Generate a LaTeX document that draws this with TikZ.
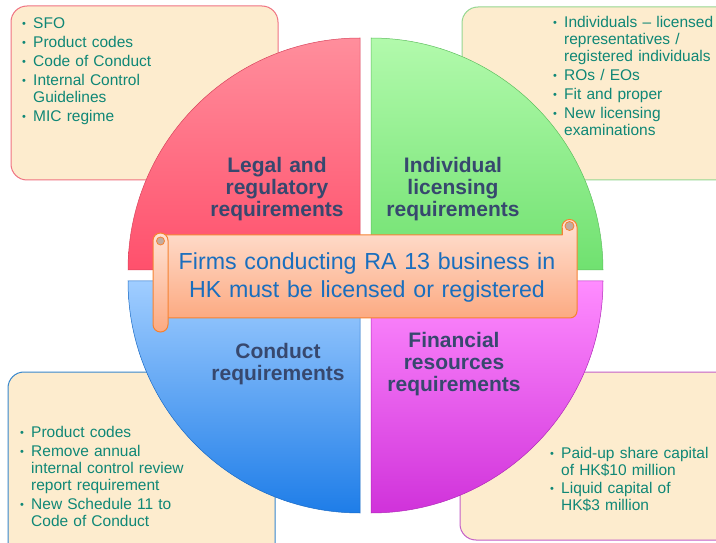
\documentclass[tikz,border=0pt]{standalone}
\usepackage{fontspec}
\setmainfont{Liberation Sans}
\definecolor{bullettext}{RGB}{15,135,118}
\definecolor{labeltext}{RGB}{55,72,110}
\definecolor{cream}{RGB}{253,236,206}
\definecolor{redborder}{RGB}{240,115,130}
\definecolor{greenborder}{RGB}{150,215,145}
\definecolor{blueborder}{RGB}{55,135,205}
\definecolor{pinkborder}{RGB}{195,95,200}
\definecolor{redtop}{RGB}{255,142,156}
\definecolor{redbot}{RGB}{255,80,108}
\definecolor{greentop}{RGB}{178,250,172}
\definecolor{greenbot}{RGB}{112,225,112}
\definecolor{bluetop}{RGB}{160,205,255}
\definecolor{bluebot}{RGB}{30,125,232}
\definecolor{pinktop}{RGB}{255,140,255}
\definecolor{pinkbot}{RGB}{208,50,218}
\definecolor{bantop}{RGB}{255,226,212}
\definecolor{banbot}{RGB}{252,170,130}
\definecolor{banline}{RGB}{245,130,50}
\definecolor{bantext}{RGB}{25,110,190}
\definecolor{curlgrey}{RGB}{195,172,160}
\newcommand\bul{\hangindent=11pt\hangafter=1\noindent\makebox[11pt][l]{\raisebox{1pt}{\fontsize{11}{11}\selectfont\textbullet}}}
\begin{document}
\begin{tikzpicture}[x=1pt,y=1pt,
  infobox/.style={rounded corners=16pt, fill=cream, line width=1pt},
  quadlabel/.style={font=\fontsize{21}{22}\selectfont\bfseries, text=labeltext, align=center, text width=170pt, anchor=base, inner sep=0pt},
  bullist/.style={font=\fontsize{15.5}{17}\selectfont, text=bullettext, align=left, anchor=base west, inner sep=0pt},
  banner/.style={top color=bantop, bottom color=banbot, draw=banline, line width=1pt},
]
\useasboundingbox (0,0) rectangle (716,542);
\fill[white] (0,0) rectangle (716,542);

% corner boxes
\draw[infobox, draw=redborder] (11,362) rectangle (278,536);
\draw[infobox, draw=greenborder] (462,362) rectangle (740,535);
\draw[infobox, draw=blueborder] (8,-20) rectangle (275,170);
\draw[infobox, draw=pinkborder] (460,2) rectangle (740,170);

% bullet lists
\node[bullist, text width=250pt] (tl) at (22,513) {\setlength\parskip{2pt}%
\bul SFO\par
\bul Product codes\par
\bul Code of Conduct\par
\bul Internal Control\newline Guidelines\par
\bul MIC regime\par};
\node[bullist, text width=170pt] (tr) at (553,514) {\setlength\parskip{2pt}%
\bul Individuals – licensed\newline representatives /\newline registered individuals\par
\bul ROs / EOs\par
\bul Fit and proper\par
\bul New licensing\newline examinations\par};
\node[bullist, text width=240pt] (bl) at (20,105) {\setlength\parskip{2pt}%
\bul Product codes\par
\bul Remove annual\newline internal control review\newline report requirement\par
\bul New Schedule 11 to\newline Code of Conduct\par};
\node[bullist, text width=170pt] (br) at (550,84) {\setlength\parskip{1pt}%
\bul Paid-up share capital\newline of HK\$10 million\par
\bul Liquid capital of\newline HK\$3 million\par};

% quadrants
\shadedraw[top color=redtop, bottom color=redbot, draw=redbot!85!black, line width=0.5pt]
  (360,272) -- (128,272) arc[start angle=180, end angle=90, radius=232] -- cycle;
\shadedraw[top color=greentop, bottom color=greenbot, draw=greenbot!85!black, line width=0.5pt]
  (371,272) -- (371,504) arc[start angle=90, end angle=0, radius=232] -- cycle;
\shadedraw[top color=bluetop, bottom color=bluebot, draw=bluebot!85!black, line width=0.5pt]
  (360,261) -- (128,261) arc[start angle=180, end angle=270, radius=232] -- cycle;
\shadedraw[top color=pinktop, bottom color=pinkbot, draw=pinkbot!85!black, line width=0.5pt]
  (371,261) -- (603,261) arc[start angle=0, end angle=-90, radius=232] -- cycle;

% quadrant labels
\node[quadlabel] (legal) at (277,369) {Legal and\\regulatory\\requirements};
\node[quadlabel] (indiv) at (453,369) {Individual\\licensing\\requirements};
\node[quadlabel] (conduct) at (278,184) {Conduct\\requirements};
\node[quadlabel] (fin) at (454,194) {Financial\\resources\\requirements};

% scroll banner
\shadedraw[banner]
  (160,224) -- (570,224) arc[start angle=-90, end angle=0, radius=7]
  -- (577,315) arc[start angle=0, end angle=180, radius=7.5]
  -- (562,307) -- (160,307) -- cycle;
\draw[banline, line width=0.8pt] (562,307) -- (562,314);
\filldraw[fill=curlgrey, draw=banline, line width=0.8pt] (569.5,316) circle[radius=4.5];
\shadedraw[banner, rounded corners=7.5pt] (153,210) rectangle (168,309);
\filldraw[fill=curlgrey, draw=banline, line width=0.8pt] (160.5,301) circle[radius=4];

\node[font=\fontsize{23.2}{28}\selectfont, text=bantext, align=center, text width=420pt, anchor=base, inner sep=0pt] (firms) at (367,272)
  {Firms conducting RA 13 business in\\HK must be licensed or registered};
\end{tikzpicture}
\end{document}
